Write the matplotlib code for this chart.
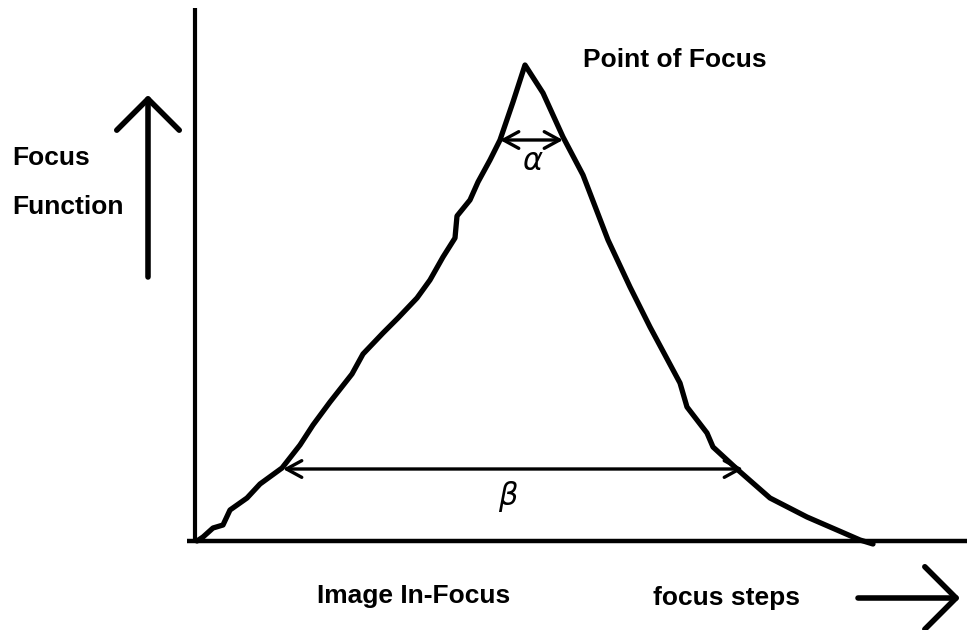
import matplotlib
matplotlib.use("Agg")
import matplotlib.pyplot as plt

# Focus function sampled along the focus steps (origin at the axis corner)
left_steps = [2, 8, 18, 28, 35, 52, 65, 87, 105, 118, 135, 157, 168, 188, 203,
              222, 235, 248, 260, 262, 275, 283, 295, 305, 318, 330]
left_values = [0, 4, 13, 16, 31, 43, 57, 73, 96, 116, 139, 167, 187, 208, 223,
               243, 261, 284, 303, 325, 341, 359, 381, 401, 439, 476]
right_steps = [348, 368, 388, 413, 435, 455, 485, 492, 512, 518, 543, 575,
               612, 642, 665, 678]
right_values = [448, 404, 366, 301, 254, 214, 158, 134, 108, 94, 71, 43,
                24, 11, 1, -3]

steps = left_steps + right_steps
values = left_values + right_values

# widths marked on the peak
alpha_level, alpha_from, alpha_to = 401, 305, 368
beta_level, beta_from, beta_to = 72, 88, 548

W, H = 967, 630
fig = plt.figure(figsize=(W / 100, H / 100), dpi=100)
ax = fig.add_axes([0, 0, 1, 1])
ax.set_xlim(-195, W - 195)
ax.set_ylim(541 - H, 541)
ax.axis("off")

ink = "black"
font = dict(family=["Liberation Sans", "DejaVu Sans"], fontweight="bold",
            fontsize=19, color=ink)

# axes frame
ax.plot([0, 0], [-2, 533], color=ink, lw=3.0, solid_capstyle="butt")
ax.plot([-8, 772], [0, 0], color=ink, lw=3.2, solid_capstyle="butt")

# curve
ax.plot(steps, values, color=ink, lw=3.8, solid_joinstyle="round",
        solid_capstyle="round")

# alpha and beta width markers
arrow_kw = dict(arrowstyle="<->,head_length=0.55,head_width=0.3",
                color=ink, lw=2.4, shrinkA=0, shrinkB=0, mutation_scale=20)
ax.annotate("", xy=(alpha_to, alpha_level), xytext=(alpha_from, alpha_level),
            arrowprops=arrow_kw)
ax.annotate("", xy=(beta_to, beta_level), xytext=(beta_from, beta_level),
            arrowprops=arrow_kw)
ax.text((alpha_from + alpha_to) / 2 + 1, alpha_level - 22, r"$\alpha$",
        fontsize=22, ha="center", va="center", color=ink)
ax.text((beta_from + beta_to) / 2 - 5, beta_level - 27, r"$\beta$",
        fontsize=22, ha="center", va="center", color=ink)

# labels
ax.text(388, 481, "Point of Focus", ha="left", va="center", **font)
ax.text(-183, 383, "Focus", ha="left", va="center", **font)
ax.text(-183, 334, "Function", ha="left", va="center", **font)
ax.text(122, -55, "Image In-Focus", ha="left", va="center", **font)
ax.text(458, -57, "focus steps", ha="left", va="center", **font)

# direction arrows
big_arrow = dict(arrowstyle="->,head_length=0.45,head_width=0.45",
                 color=ink, lw=4.0, shrinkA=0, shrinkB=0, mutation_scale=50)
ax.annotate("", xy=(-47, 446), xytext=(-47, 264), arrowprops=big_arrow)
ax.annotate("", xy=(765, -57), xytext=(663, -57), arrowprops=big_arrow)

fig.savefig("out.png", dpi=100, facecolor="white")
